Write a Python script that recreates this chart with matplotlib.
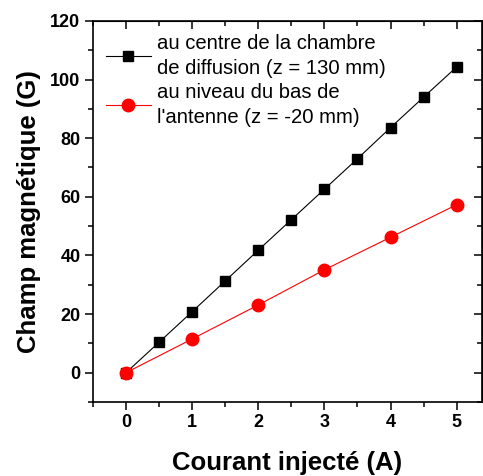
import numpy as np
import matplotlib.pyplot as plt

plt.rcParams['font.family'] = ['Liberation Sans', 'DejaVu Sans']

courant_centre = [0, 0.5, 1, 1.5, 2, 2.5, 3, 3.5, 4, 4.5, 5]
champ_centre = [0, 10.4, 20.8, 31.3, 41.8, 52.2, 62.6, 73.0, 83.6, 94.0, 104.3]
courant_bas = [0, 1, 2, 3, 4, 5]
champ_bas = [0, 11.5, 23.1, 35.1, 46.2, 57.3]

label_centre = "au centre de la chambre\nde diffusion (z = 130 mm)"
label_bas = "au niveau du bas de\nl'antenne (z = -20 mm)"

fig = plt.figure(figsize=(4.83, 4.76), dpi=100)
ax = fig.add_axes([0.1925, 0.1555, 0.805, 0.8005])

ax.plot(courant_centre, champ_centre, color='black', lw=0.8, marker='s',
        markersize=7, label=label_centre)
ax.plot(courant_bas, champ_bas, color='red', lw=0.8, marker='o',
        markersize=9, label=label_bas)

ax.set_xlim(-0.5, 5.38)
ax.set_ylim(-10, 120)
ax.set_xticks(np.arange(0, 6, 1))
ax.set_xticks(np.arange(-0.5, 5.5, 0.5), minor=True)
ax.set_yticks(np.arange(0, 121, 20))
ax.set_yticks(np.arange(-10, 121, 10), minor=True)

for s in ax.spines.values():
    s.set_linewidth(1.2)
ax.tick_params(which='both', direction='out', width=1.1, top=False, right=False)
ax.tick_params(which='major', length=5.5, labelsize=13)
ax.tick_params(which='minor', length=3.5)
for lab in ax.get_xticklabels() + ax.get_yticklabels():
    lab.set_fontweight('bold')

# inward ticks mirrored on top and right
ax2 = ax.secondary_xaxis('top')
ax2.set_xticks(np.arange(0, 6, 1))
ax2.set_xticks(np.arange(-0.5, 5.5, 0.5), minor=True)
ax2.tick_params(which='both', direction='in', width=1.1, labeltop=False)
ax2.tick_params(which='major', length=5.5)
ax2.tick_params(which='minor', length=3.5)
ay2 = ax.secondary_yaxis('right')
ay2.set_yticks(np.arange(0, 121, 20))
ay2.set_yticks(np.arange(-10, 121, 10), minor=True)
ay2.tick_params(which='both', direction='in', width=1.1, labelright=False)
ay2.tick_params(which='major', length=5.5)
ay2.tick_params(which='minor', length=3.5)

ax.set_xlabel('Courant injecté (A)', fontsize=18.5, fontweight='bold', labelpad=14)
ax.set_ylabel('Champ magnétique (G)', fontsize=18.5, fontweight='bold', labelpad=7)

leg = ax.legend(loc='upper left', frameon=False, fontsize=14.6, handlelength=2.2,
                handletextpad=0.3, borderaxespad=0.25, labelspacing=0.25)
for t in leg.get_texts():
    t.set_linespacing(1.38)

plt.savefig('out.png', dpi=100)
